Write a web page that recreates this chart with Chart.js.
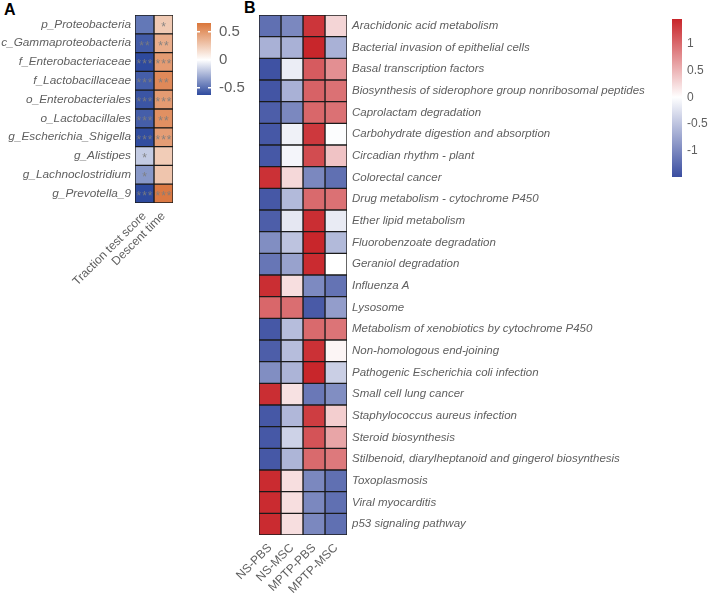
<!DOCTYPE html>
<html>
<head>
<meta charset="utf-8">
<script src="https://cdn.jsdelivr.net/npm/chart.js@4.4.1/dist/chart.umd.min.js"></script>
<style>
  body { margin: 0; background: #fff; width: 708px; height: 593px; position: relative; overflow: hidden; font-family: "Liberation Sans", Arial, sans-serif; }
  canvas { position: absolute; }
  .tag { position: absolute; font-weight: bold; font-size: 16px; color: #000; }
</style>
</head>
<body>
<div class="tag" style="left:4px;top:1px">A</div>
<div class="tag" style="left:244px;top:-1px">B</div>
<canvas id="heatA" width="190" height="300" style="left:0;top:0"></canvas>
<canvas id="barA" width="60" height="110" style="left:190px;top:0"></canvas>
<canvas id="heatB" width="460" height="593" style="left:200px;top:0"></canvas>
<canvas id="barB" width="48" height="200" style="left:660px;top:0"></canvas>
<script>
// ---- panel A: correlations ----
const taxa = ["p_Proteobacteria", "c_Gammaproteobacteria", "f_Enterobacteriaceae", "f_Lactobacillaceae",
  "o_Enterobacteriales", "o_Lactobacillales", "g_Escherichia_Shigella", "g_Alistipes",
  "g_Lachnoclostridium", "g_Prevotella_9"];
const behaviours = ["Traction test score", "Descent time"];
const tractionR = [-0.47, -0.57, -0.63, -0.56, -0.59, -0.56, -0.62, -0.18, -0.36, -0.63];
const descentR = [0.24, 0.37, 0.45, 0.53, 0.45, 0.5, 0.44, 0.23, 0.26, 0.6];
const tractionStars = ["", "**", "***", "***", "***", "***", "***", "*", "*", "***"];
const descentStars = ["*", "**", "***", "**", "***", "**", "***", "", "", "***"];
const ticksA = [-0.5, 0, 0.5];

// ---- panel B: KEGG pathways (z-score) ----
const pathways = ["Arachidonic acid metabolism", "Bacterial invasion of epithelial cells",
  "Basal transcription factors", "Biosynthesis of siderophore group nonribosomal peptides",
  "Caprolactam degradation", "Carbohydrate digestion and absorption", "Circadian rhythm - plant",
  "Colorectal cancer", "Drug metabolism - cytochrome P450", "Ether lipid metabolism",
  "Fluorobenzoate degradation", "Geraniol degradation", "Influenza A", "Lysosome",
  "Metabolism of xenobiotics by cytochrome P450", "Non-homologous end-joining",
  "Pathogenic Escherichia coli infection", "Small cell lung cancer",
  "Staphylococcus aureus infection", "Steroid biosynthesis",
  "Stilbenoid, diarylheptanoid and gingerol biosynthesis", "Toxoplasmosis",
  "Viral myocarditis", "p53 signaling pathway"];
const groups = ["NS-PBS", "NS-MSC", "MPTP-PBS", "MPTP-MSC"];
const nsPbs = [-1.2, -0.65, -1.45, -1.42, -1.35, -1.4, -1.4, 1.38, -1.4, -1.35, -0.95, -1.15,
  1.4, 1.02, -1.4, -1.35, -0.95, 1.4, -1.4, -1.4, -1.4, 1.42, 1.42, 1.42];
const nsMsc = [-1.0, -0.65, -0.15, -0.65, -1.0, -0.12, -0.08, 0.26, -0.58, -0.2, -0.5, -0.78,
  0.22, 0.97, -0.55, -0.55, -0.63, 0.2, -0.6, -0.38, -0.62, 0.22, 0.22, 0.22];
const mptpPbs = [1.35, 1.45, 1.1, 1.05, 1.02, 1.33, 1.2, -1.0, 1.0, 1.4, 1.45, 1.42,
  -0.98, -1.38, 1.0, 1.38, 1.45, -1.13, 1.3, 1.15, 1.0, -1.0, -1.0, -1.0];
const mptpMsc = [0.28, -0.65, 0.75, 0.95, 0.95, -0.02, 0.4, -1.2, 0.95, -0.17, -0.58, 0.0,
  -1.17, -0.82, 0.93, 0.07, -0.4, -0.95, 0.33, 0.6, 0.9, -1.2, -1.2, -1.2];
const ticksB = [-1, -0.5, 0, 0.5, 1];

const FONT = '"Liberation Sans", Arial, sans-serif';
const GREY = '#5f5f5f';

function mix(a, b, t) {
  return 'rgb(' + a.map((c, i) => Math.round(c + (b[i] - c) * t)).join(',') + ')';
}
function palette(lo, hi, min, max) {
  const white = [255, 255, 255];
  return v => v < 0 ? mix(white, lo, Math.min(v / min, 1)) : mix(white, hi, Math.min(v / max, 1));
}
const colA = palette([46, 74, 158], [215, 108, 48], -0.63, 0.66);
const colB = palette([58, 77, 160], [200, 37, 42], -1.49, 1.46);

// significance marks, placed at each cell's centre
const starPlugin = {
  id: 'stars',
  afterDatasetsDraw(chart) {
    const ctx = chart.ctx;
    ctx.save();
    ctx.font = '12px ' + FONT;
    ctx.letterSpacing = '1px';
    ctx.fillStyle = 'rgba(125,125,125,0.9)';
    ctx.textAlign = 'center';
    ctx.textBaseline = 'middle';
    chart.data.datasets.forEach((ds, di) => {
      if (!ds.stars) return;
      chart.getDatasetMeta(di).data.forEach((el, i) => {
        const p = el.getCenterPoint();
        ctx.fillText(ds.stars[i], p.x + 0.5, p.y + 3);
      });
    });
    ctx.restore();
  }
};

function heatmap(id, rows, cols, cols_values, stars, colorOf, lay) {
  const datasets = cols.map((c, ci) => ({
    label: c,
    data: rows.map(() => 1),
    backgroundColor: cols_values[ci].map(colorOf),
    borderColor: '#1b1b1b',
    borderWidth: 1,
    borderSkipped: false,
    barPercentage: 1,
    categoryPercentage: 1,
    stars: stars ? stars[ci] : null
  }));
  return new Chart(document.getElementById(id), {
    type: 'bar',
    data: { labels: rows, datasets },
    plugins: [starPlugin],
    options: {
      indexAxis: 'y',
      responsive: false,
      animation: false,
      events: [],
      layout: { padding: lay.padding },
      plugins: { legend: { display: false }, tooltip: { enabled: false } },
      scales: {
        x: {
          type: 'linear', stacked: true, min: 0, max: cols.length,
          grid: { display: false, drawTicks: false }, border: { display: false },
          afterBuildTicks: s => { s.ticks = cols.map((c, i) => ({ value: i + 0.5 })); },
          afterFit: s => { s.height = lay.xh; s.paddingLeft = 0; s.paddingRight = 0; },
          ticks: {
            autoSkip: false, minRotation: 45, maxRotation: 45, padding: 6,
            color: GREY, font: { family: FONT, size: 12 },
            callback: (v, i) => cols[i]
          }
        },
        y: {
          stacked: true, position: lay.ypos,
          grid: { display: false, drawTicks: false }, border: { display: false },
          afterFit: s => { s.width = lay.yw; s.paddingTop = 0; s.paddingBottom = 0; },
          ticks: {
            autoSkip: false, padding: lay.tickPad, color: GREY,
            font: { family: FONT, size: lay.fs, style: 'italic' }
          }
        }
      }
    }
  });
}

function colorbar(id, min, max, lo, hi, ticks, lay) {
  return new Chart(document.getElementById(id), {
    type: 'bar',
    data: {
      labels: [''],
      datasets: [{
        data: [[min, max]],
        barPercentage: 1, categoryPercentage: 1, borderWidth: 0,
        backgroundColor: ctx => {
          const area = ctx.chart.chartArea;
          if (!area) return 'transparent';
          const y0 = ctx.chart.scales.y.getPixelForValue(0);
          const g = ctx.chart.ctx.createLinearGradient(0, area.bottom, 0, area.top);
          g.addColorStop(0, lo);
          g.addColorStop((area.bottom - y0) / (area.bottom - area.top), '#ffffff');
          g.addColorStop(1, hi);
          return g;
        }
      }]
    },
    options: {
      responsive: false, animation: false, events: [],
      layout: { padding: lay.padding },
      plugins: { legend: { display: false }, tooltip: { enabled: false } },
      scales: {
        x: { display: false },
        y: {
          position: 'right', min, max,
          afterBuildTicks: s => { s.ticks = ticks.map(v => ({ value: v })); },
          afterFit: s => { s.width = lay.yw; s.paddingTop = 0; s.paddingBottom = 0; },
          grid: lay.dash ? { z: 1, color: '#ffffff', lineWidth: 1.5, drawTicks: false }
                         : { display: false, drawTicks: false },
          border: { display: false, dash: lay.dash || [] },
          ticks: {
            padding: lay.tickPad, color: GREY, font: { family: FONT, size: lay.fs },
            callback: v => String(v)
          }
        }
      }
    }
  });
}

heatmap('heatA', taxa, behaviours, [tractionR, descentR], [tractionStars, descentStars], colA,
  { padding: { left: 0, right: 17, top: 15, bottom: 0 }, xh: 97, yw: 135, ypos: 'left', tickPad: 4, fs: 11.8 });
colorbar('barA', -0.63, 0.66, 'rgb(46,74,158)', 'rgb(218,118,58)', ticksA,
  { padding: { left: 7, right: 0, top: 23, bottom: 15 }, yw: 39, tickPad: 8, fs: 15, dash: [3, 8] });
heatmap('heatB', pathways, groups, [nsPbs, nsMsc, mptpPbs, mptpMsc], null, colB,
  { padding: { left: 59, right: 0, top: 15, bottom: 0 }, xh: 58, yw: 313, ypos: 'right', tickPad: 5, fs: 11.5 });
colorbar('barB', -1.49, 1.46, 'rgb(58,77,160)', 'rgb(200,37,42)', ticksB,
  { padding: { left: 12, right: 0, top: 19, bottom: 23 }, yw: 26, tickPad: 5, fs: 12 });
</script>
</body>
</html>
